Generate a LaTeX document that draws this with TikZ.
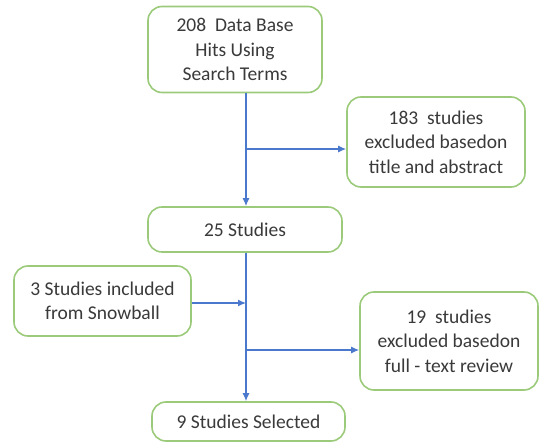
\documentclass[tikz,border=0pt]{standalone}
\usepackage{fontspec}
\setmainfont{Carlito}
\usetikzlibrary{arrows.meta}
\definecolor{boxgreen}{HTML}{9BCB7A}
\definecolor{arrowblue}{HTML}{4A78CC}
\definecolor{txt}{HTML}{3A3A3A}
\begin{document}
\begin{tikzpicture}[x=1pt,y=-1pt,
  box/.style={draw=boxgreen,line width=1.6pt,rounded corners=14pt,fill=white,
    align=center,text=txt,font=\fontsize{19.5}{24.5}\selectfont,inner sep=0pt},
  conn/.style={draw=arrowblue,line width=1.3pt},
  arr/.style={conn,-{Latex[length=8pt,width=7pt]}}]
\useasboundingbox (0,0) rectangle (541,443);
\node[box,minimum width=174pt,minimum height=86pt] (b1) at (235,49.5) {208\ \ Data Base\\Hits Using\\Search Terms};
\node[box,minimum width=178pt,minimum height=90pt] (b2) at (436,142) {183\ \ studies\\excluded basedon\\title and abstract};
\node[box,minimum width=194pt,minimum height=45pt] (b3) at (245,229.5) {25 Studies};
\node[box,minimum width=177pt,minimum height=70pt] (b4) at (102.5,301) {3 Studies included\\from Snowball};
\node[box,minimum width=178pt,minimum height=98pt] (b5) at (449,341) {19\ \ studies\\excluded basedon\\full - text review};
\node[box,minimum width=193pt,minimum height=39pt] (b6) at (248.5,421.5) {9 Studies Selected};
\coordinate (lx) at (246,0);
\coordinate (j1) at (246,149);
\coordinate (j2) at (246,303);
\coordinate (j3) at (246,350);
\draw[arr] (b1.south -| lx) -- (b3.north -| lx);
\draw[arr] (j1) -- (j1 -| b2.west);
\draw[arr] (b3.south -| lx) -- (b6.north -| lx);
\draw[arr] (b4.east |- j2) -- (j2);
\draw[arr] (j3) -- (j3 -| b5.west);
\end{tikzpicture}
\end{document}
